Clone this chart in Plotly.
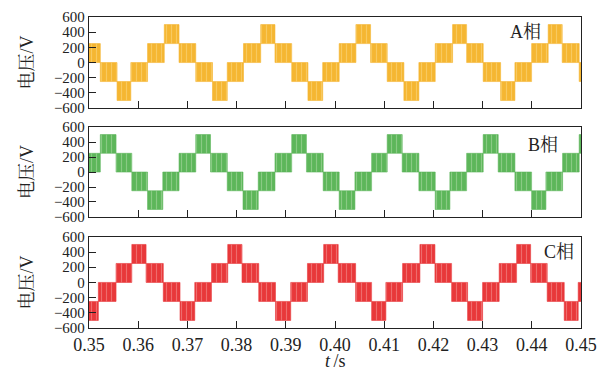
import plotly.graph_objects as go

# ---------------- data ----------------
# block boundaries (s) and lower / upper voltage level (V) of each block
edges_a = [0.3500, 0.3523, 0.3557, 0.3585, 0.3619, 0.3653, 0.3683, 0.3717, 0.3751,
           0.3781, 0.3814, 0.3849, 0.3878, 0.3912, 0.3945, 0.3975, 0.40085, 0.40425,
           0.40723, 0.41061, 0.41400, 0.41705, 0.42037, 0.42390, 0.42675, 0.43012,
           0.43366, 0.43657, 0.43996, 0.44333, 0.44618, 0.44963, 0.4500]
lo_a = [0, -250, -500, -250, 0, 250, 0, -250, -500, -250, 0, 250, 0, -250, -500, -250,
        0, 250, 0, -250, -500, -250, 0, 250, 0, -250, -500, -250, 0, 250, 0, -250]
hi_a = [250, 0, -250, 0, 250, 500, 250, 0, -250, 0, 250, 500, 250, 0, -250, 0,
        250, 500, 250, 0, -250, 0, 250, 500, 250, 0, -250, 0, 250, 500, 250, 0]

edges_b = [0.3500, 0.3523, 0.3555, 0.3587, 0.3619, 0.3650, 0.3683, 0.3717, 0.3747,
           0.3781, 0.3813, 0.3844, 0.3878, 0.3912, 0.3942, 0.3976, 0.40085, 0.40405,
           0.40744, 0.41061, 0.41366, 0.41705, 0.42037, 0.42335, 0.42675, 0.43012,
           0.43317, 0.43657, 0.43996, 0.44287, 0.44626, 0.44963, 0.4500]
lo_b = [0, 250, 0, -250, -500, -250, 0, 250, 0, -250, -500, -250, 0, 250, 0, -250,
        -500, -250, 0, 250, 0, -250, -500, -250, 0, 250, 0, -250, -500, -250, 0, 250]
hi_b = [250, 500, 250, 0, -250, 0, 250, 500, 250, 0, -250, 0, 250, 500, 250, 0,
        -250, 0, 250, 500, 250, 0, -250, 0, 250, 500, 250, 0, -250, 0, 250, 500]

edges_c = [0.3500, 0.3519, 0.3555, 0.3587, 0.3616, 0.3651, 0.3685, 0.3715, 0.3749,
           0.3782, 0.3811, 0.3845, 0.3879, 0.3910, 0.3944, 0.3977, 0.40065, 0.40419,
           0.40744, 0.41034, 0.41374, 0.41726, 0.42031, 0.42370, 0.42695, 0.43000,
           0.43337, 0.43691, 0.43976, 0.44313, 0.44659, 0.44943, 0.4500]
lo_c = [-500, -250, 0, 250, 0, -250, -500, -250, 0, 250, 0, -250, -500, -250, 0, 250,
        0, -250, -500, -250, 0, 250, 0, -250, -500, -250, 0, 250, 0, -250, -500, -250]
hi_c = [-250, 0, 250, 500, 250, 0, -250, 0, 250, 500, 250, 0, -250, 0, 250, 500,
        250, 0, -250, 0, 250, 500, 250, 0, -250, 0, 250, 500, 250, 0, -250, 0]

phase_labels = ["A相", "B相", "C相"]
x_ticks = [0.35, 0.36, 0.37, 0.38, 0.39, 0.40, 0.41, 0.42, 0.43, 0.44, 0.45]
x_ticktext = ["0.35", "0.36", "0.37", "0.38", "0.39", "0.40", "0.41", "0.42", "0.43", "0.44", "0.45"]
y_ticks = [-600, -400, -200, 0, 200, 400, 600]
x_title = "<i>t</i>\u2009/s"
y_title = "电压/V"

# ---------------- styling ----------------
colors = ["#F5B632", "#5DB65A", "#E8383A"]
stripes = ["#FBDC8E", "#B5DEAE", "#F4A0A0"]
FONT = "Liberation Serif"
CJK = "Liberation Serif, Noto Serif CJK SC, Noto Sans CJK SC"

fig = go.Figure()

series = [(edges_a, lo_a, hi_a), (edges_b, lo_b, hi_b), (edges_c, lo_c, hi_c)]
domains = [[0.707, 1.0], [0.357, 0.646], [0.0, 0.293]]
label_pos = [(0.888, 0.83), (0.922, 0.80), (0.955, 0.835)]

for i, (edges, lo, hi) in enumerate(series):
    xs, ys = [], []
    for k in range(len(lo)):
        x0, x1 = edges[k], edges[k + 1]
        xs += [x0, x1, x1, x0, x0, None]
        ys += [lo[k], lo[k], hi[k], hi[k], lo[k], None]
    xa = "x" if i == 0 else f"x{i+1}"
    ya = "y" if i == 0 else f"y{i+1}"
    fig.add_trace(go.Scatter(
        x=xs, y=ys, mode="lines", fill="toself",
        fillcolor=colors[i],
        fillpattern=dict(shape="|", bgcolor=colors[i], fgcolor=stripes[i],
                         size=5, solidity=0.22),
        line=dict(color=colors[i], width=0.6),
        xaxis=xa, yaxis=ya, showlegend=False, hoverinfo="skip"))

    axis_common = dict(showline=True, mirror=True, linecolor="#222", linewidth=1.3,
                       ticks="inside", ticklen=7, tickwidth=1.2, tickcolor="#222",
                       showgrid=False, zeroline=False, automargin=False)
    xkey = "xaxis" if i == 0 else f"xaxis{i+1}"
    ykey = "yaxis" if i == 0 else f"yaxis{i+1}"
    fig.layout[xkey] = dict(
        range=[0.35, 0.45], tickvals=x_ticks, ticktext=x_ticktext,
        showticklabels=(i == 2), anchor=ya, domain=[0, 1],
        tickfont=dict(family=FONT, size=18, color="#222"),
        **axis_common)
    fig.layout[ykey] = dict(
        range=[-600, 600], tickvals=y_ticks, anchor=xa, domain=domains[i],
        tickfont=dict(family=FONT, size=15, color="#222"),
        title=dict(text=y_title, font=dict(family=CJK, size=18, color="#222"),
                   standoff=15),
        **axis_common)
    fig.add_annotation(text=phase_labels[i], x=label_pos[i][0], y=label_pos[i][1],
                       xref=f"{xa} domain", yref=f"{ya} domain", showarrow=False,
                       xanchor="center", yanchor="middle",
                       font=dict(family=CJK, size=18, color="#222"))

# x-axis title placed below the bottom panel's tick labels
fig.add_annotation(text=x_title, x=0.5, y=-0.105, xref="x3 domain", yref="paper",
                   showarrow=False, xanchor="center", yanchor="middle",
                   font=dict(family=FONT, size=18, color="#222"))

fig.update_layout(width=611, height=372, margin=dict(l=89, r=30, t=17, b=44),
                  paper_bgcolor="white", plot_bgcolor="white")

fig.write_html("out.html", config={"displayModeBar": False},
               post_script="document.body.style.margin='0';document.body.style.padding='0';")
